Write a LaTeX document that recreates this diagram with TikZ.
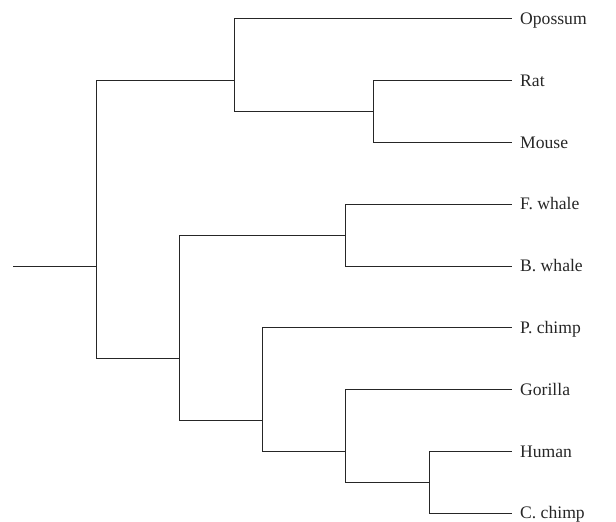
\documentclass[tikz,border=0pt]{standalone}
\usepackage{fontspec}
\setmainfont{Liberation Serif}
\begin{document}
\begin{tikzpicture}[x=1pt,y=-1pt,
  br/.style={line width=1pt, draw=black!85},
  leaf/.style={anchor=west, inner xsep=8pt, inner ysep=0pt, text height=11.4pt, text depth=0pt,
    font=\fontsize{17.6}{20}\selectfont, text=black!85}]
\useasboundingbox (0,0) rectangle (616,522);
% leaves
\node[leaf] (op) at (512,18.8) {Opossum};
\node[leaf] (ra) at (512,80.6) {Rat};
\node[leaf] (mo) at (512,142.4) {Mouse};
\node[leaf] (fw) at (512,204.2) {F. whale};
\node[leaf] (bw) at (512,266.0) {B. whale};
\node[leaf] (pc) at (512,327.8) {P. chimp};
\node[leaf] (go) at (512,389.6) {Gorilla};
\node[leaf] (hu) at (512,451.4) {Human};
\node[leaf] (cc) at (512,513.2) {C. chimp};
% internal nodes
\coordinate (r0) at (13,266.0);
\coordinate (root) at (96,266.0);
\coordinate (a) at (234.5,80.6);
\coordinate (rod) at (373,111.5);
\coordinate (b) at (179,358.7);
\coordinate (wh) at (345.5,235.1);
\coordinate (pr) at (262,420.5);
\coordinate (gg) at (345.5,451.4);
\coordinate (hc) at (429,482.3);
% connectors
\draw[br] (r0) -- (root);
\draw[br] (root) |- (a);
\draw[br] (root) |- (b);
\draw[br] (a) |- (op.west);
\draw[br] (a) |- (rod);
\draw[br] (rod) |- (ra.west);
\draw[br] (rod) |- (mo.west);
\draw[br] (b) |- (wh);
\draw[br] (b) |- (pr);
\draw[br] (wh) |- (fw.west);
\draw[br] (wh) |- (bw.west);
\draw[br] (pr) |- (pc.west);
\draw[br] (pr) |- (gg);
\draw[br] (gg) |- (go.west);
\draw[br] (gg) |- (hc);
\draw[br] (hc) |- (hu.west);
\draw[br] (hc) |- (cc.west);
\end{tikzpicture}
\end{document}
